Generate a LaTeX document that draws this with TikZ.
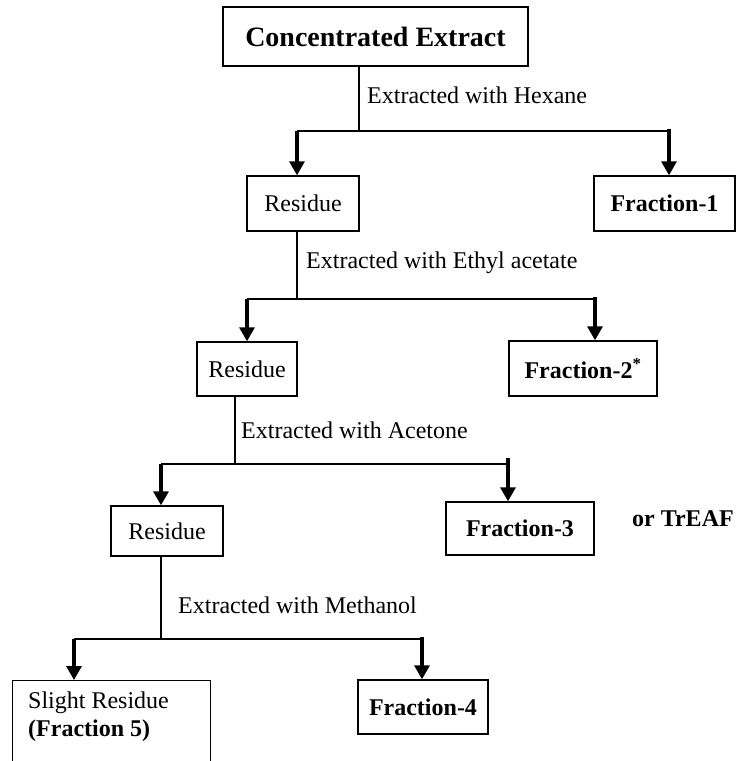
\documentclass[tikz,border=0pt]{standalone}
\usepackage{fontspec}
\setmainfont{Liberation Serif}
\usetikzlibrary{arrows.meta}

\begin{document}
\begin{tikzpicture}[x=1pt, y=-1pt,
  box/.style={draw, line width=1.4pt, inner sep=0pt, font=\fontsize{24}{28}\selectfont},
  branch/.style={line width=1.3pt},
  drop/.style={line width=3.2pt, -{Triangle[length=14pt,width=15pt]}},
  note/.style={font=\fontsize{24}{28}\selectfont, anchor=base west, inner sep=0pt}]
\clip (0,0) rectangle (736,761);

% boxes
\node[box, minimum width=305, minimum height=59, font=\bfseries\fontsize{28}{32}\selectfont] (ce) at (375.5,36.5) {Concentrated Extract};
\node[box, minimum width=112, minimum height=55] (res1) at (303,203.5) {Residue};
\node[box, minimum width=141, minimum height=55, font=\bfseries\fontsize{24}{28}\selectfont] (fr1) at (664.5,203.5) {Fraction-1};
\node[box, minimum width=100, minimum height=54] (res2) at (247,369) {Residue};
\node[box, minimum width=148, minimum height=55, font=\bfseries\fontsize{24}{28}\selectfont] (fr2) at (583,368.5) {Fraction-2\textsuperscript{*}};
\node[box, minimum width=112, minimum height=50] (res3) at (167,531) {Residue};
\node[box, minimum width=148, minimum height=53, font=\bfseries\fontsize{24}{28}\selectfont] (fr3) at (520,528.5) {Fraction-3};
\node[box, minimum width=198, minimum height=130, anchor=north west] (slight) at (12,680) {};
\node[note, anchor=north west, align=left] (slighttxt) at ([shift={(16pt,-12pt)}]slight.north west) {Slight Residue\\\textbf{(Fraction 5)}};
\node[box, minimum width=130, minimum height=54, font=\bfseries\fontsize{24}{28}\selectfont] (fr4) at (423,707) {Fraction-4};

% side note
\node[note, font=\bfseries\fontsize{24}{28}\selectfont] (treaf) at (632,526) {or TrEAF};

% step 1
\coordinate (s1) at (359,131);
\coordinate (h1l) at (297,131);
\coordinate (h1r) at (669,131);
\draw[branch] (ce.south -| s1) -- (s1);
\draw[branch] (h1l) -- (h1r);
\draw[drop] (h1l) -- (res1.north -| h1l);
\draw[drop] ([yshift=2pt]h1r) -- (fr1.north -| h1r);
\node[note] (hex) at (367,103) {Extracted with Hexane};

% step 2
\coordinate (s2) at (297,299);
\coordinate (h2l) at (247,299);
\coordinate (h2r) at (595,299);
\draw[branch] (res1.south -| s2) -- (s2);
\draw[branch] (h2l) -- (h2r);
\draw[drop] (h2l) -- (res2.north -| h2l);
\draw[drop] ([yshift=2pt]h2r) -- (fr2.north -| h2r);
\node[note] (eth) at (306,268) {Extracted with Ethyl acetate};

% step 3
\coordinate (s3) at (235,464);
\coordinate (h3l) at (161,464);
\coordinate (h3r) at (508,464);
\draw[branch] (res2.south -| s3) -- (s3);
\draw[branch] (h3l) -- (h3r);
\draw[drop] (h3l) -- (res3.north -| h3l);
\draw[drop] ([yshift=6pt]h3r) -- (fr3.north -| h3r);
\node[note] (ace) at (241,438) {Extracted with Acetone};

% step 4
\coordinate (s4) at (161,639);
\coordinate (h4l) at (74,639);
\coordinate (h4r) at (422,639);
\draw[branch] (res3.south -| s4) -- (s4);
\draw[branch] (h4l) -- (h4r);
\draw[drop] (h4l) -- (slight.north -| h4l);
\draw[drop] ([yshift=2pt]h4r) -- (fr4.north -| h4r);
\node[note] (met) at (178,613) {Extracted with Methanol};
\end{tikzpicture}
\end{document}
